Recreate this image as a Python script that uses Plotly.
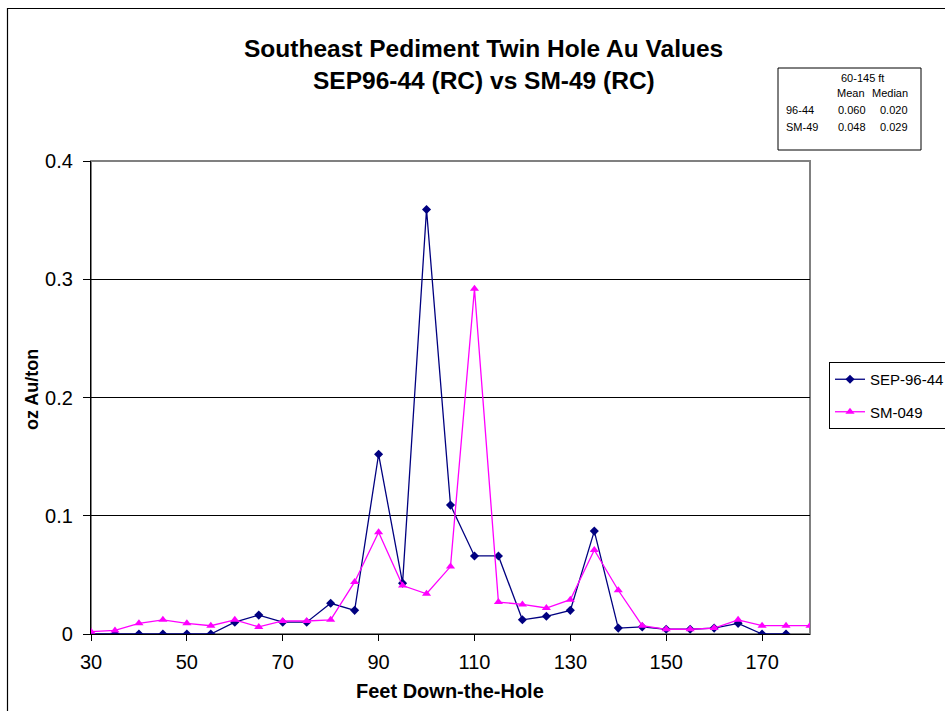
import plotly.graph_objects as go

depth = [30, 35, 40, 45, 50, 55, 60, 65, 70, 75, 80, 85, 90, 95, 100, 105, 110, 115,
         120, 125, 130, 135, 140, 145, 150, 155, 160, 165, 170, 175, 180]
sep_96_44 = [0, 0, 0, 0, 0, 0, 0.010, 0.016, 0.010, 0.010, 0.026, 0.020, 0.152, 0.043,
             0.359, 0.109, 0.066, 0.066, 0.012, 0.015, 0.020, 0.087, 0.005, 0.006,
             0.004, 0.004, 0.005, 0.009, 0, 0, None]
sm_049 = [0.002, 0.003, 0.009, 0.012, 0.009, 0.007, 0.012, 0.006, 0.011, 0.011, 0.012,
          0.044, 0.086, 0.041, 0.034, 0.057, 0.292, 0.027, 0.025, 0.022, 0.029, 0.071,
          0.037, 0.007, 0.004, 0.004, 0.005, 0.012, 0.007, 0.007, 0.007]
x_ticks = [30, 50, 70, 90, 110, 130, 150, 170]
y_ticks = [0, 0.1, 0.2, 0.3, 0.4]
y_tick_text = ["0", "0.1", "0.2", "0.3", "0.4"]

table_rows = [["96-44", "0.060", "0.020"], ["SM-49", "0.048", "0.029"]]

W, H = 945, 711
L, R, T, B = 91, 810, 161, 634


def px(p):
    return (p - L) / (R - L)


def py(p):
    return (B - p) / (B - T)


FONT = "Liberation Sans, Arial, sans-serif"

fig = go.Figure()
fig.add_trace(go.Scatter(
    x=depth, y=sep_96_44, name="SEP-96-44", mode="lines+markers",
    line=dict(color="#000080", width=1.3),
    marker=dict(symbol="diamond", size=7, color="#000080"),
    legendgroup="a", connectgaps=False,
))
fig.add_trace(go.Scatter(
    x=depth, y=sm_049, name="SM-049", mode="lines+markers",
    line=dict(color="#FF00FF", width=1.3),
    marker=dict(symbol="triangle-up", size=8, color="#FF00FF"),
    legendgroup="b",
))

shapes = [
    dict(type="rect", xref="paper", yref="paper", x0=0, x1=1, y0=0, y1=1,
         line=dict(color="#808080", width=2), layer="below"),
    dict(type="line", xref="paper", yref="paper", x0=px(7.5), x1=px(7.5),
         y0=py(8), y1=py(720), line=dict(color="black", width=1.2)),
    dict(type="line", xref="paper", yref="paper", x0=px(7), x1=px(960),
         y0=py(8.5), y1=py(8.5), line=dict(color="black", width=1.2)),
    dict(type="rect", xref="paper", yref="paper", x0=px(778), x1=px(921),
         y0=py(150), y1=py(68), line=dict(color="black", width=1),
         fillcolor="white"),
]

annotations = [
    dict(text="<b>Southeast Pediment Twin Hole Au Values</b>", x=px(483), y=py(49),
         xref="paper", yref="paper", showarrow=False, xanchor="center", yanchor="middle",
         font=dict(size=24.5, color="black", family=FONT)),
    dict(text="<b>SEP96-44 (RC) vs SM-49 (RC)</b>", x=px(484), y=py(80),
         xref="paper", yref="paper", showarrow=False, xanchor="center", yanchor="middle",
         font=dict(size=24.5, color="black", family=FONT)),
    dict(text="<b>oz Au/ton</b>", x=px(32), y=py(390), textangle=-90,
         xref="paper", yref="paper", showarrow=False, xanchor="center", yanchor="middle",
         font=dict(size=18, color="black", family=FONT)),
    dict(text="<b>Feet Down-the-Hole</b>", x=px(450), y=py(691),
         xref="paper", yref="paper", showarrow=False, xanchor="center", yanchor="middle",
         font=dict(size=20, color="black", family=FONT)),
    dict(text="60-145 ft", x=px(862), y=py(78),
         xref="paper", yref="paper", showarrow=False, xanchor="center", yanchor="middle",
         font=dict(size=11, color="black", family=FONT)),
    dict(text="Mean", x=px(867), y=py(93),
         xref="paper", yref="paper", showarrow=False, xanchor="right", yanchor="middle",
         font=dict(size=11, color="black", family=FONT)),
    dict(text="Median", x=px(910), y=py(93),
         xref="paper", yref="paper", showarrow=False, xanchor="right", yanchor="middle",
         font=dict(size=11, color="black", family=FONT)),
]
for i, row in enumerate(table_rows):
    yy = 110 + i * 17
    annotations.append(dict(text=row[0], x=px(784), y=py(yy), xref="paper", yref="paper",
                            showarrow=False, xanchor="left", yanchor="middle",
                            font=dict(size=11, color="black", family=FONT)))
    annotations.append(dict(text=row[1], x=px(868), y=py(yy), xref="paper", yref="paper",
                            showarrow=False, xanchor="right", yanchor="middle",
                            font=dict(size=11, color="black", family=FONT)))
    annotations.append(dict(text=row[2], x=px(910), y=py(yy), xref="paper", yref="paper",
                            showarrow=False, xanchor="right", yanchor="middle",
                            font=dict(size=11, color="black", family=FONT)))

fig.update_layout(
    width=W, height=H,
    margin=dict(l=L, r=W - R, t=T, b=H - B, autoexpand=False),
    paper_bgcolor="white", plot_bgcolor="white",
    font=dict(family=FONT, color="black", size=16),
    showlegend=True,
    legend=dict(x=px(829), y=py(362), xanchor="left", yanchor="top",
                bordercolor="black", borderwidth=1, bgcolor="white",
                font=dict(size=15, family=FONT, color="black"),
                tracegroupgap=10),
    shapes=shapes,
    annotations=annotations,
    xaxis=dict(range=[30, 180], tickvals=x_ticks, ticks="outside", ticklen=6,
               tickcolor="black", showline=True, linecolor="black", linewidth=1.3,
               showgrid=False, zeroline=False, tickfont=dict(size=20),
               ticklabelstandoff=4),
    yaxis=dict(range=[0, 0.4], tickvals=y_ticks, ticktext=y_tick_text, ticks="outside",
               ticklen=7, tickcolor="black", showline=True, linecolor="black",
               linewidth=1.3, showgrid=True, gridcolor="black", gridwidth=1,
               zeroline=False, tickfont=dict(size=20), ticklabelstandoff=6),
)

fig.write_html("out.html")
